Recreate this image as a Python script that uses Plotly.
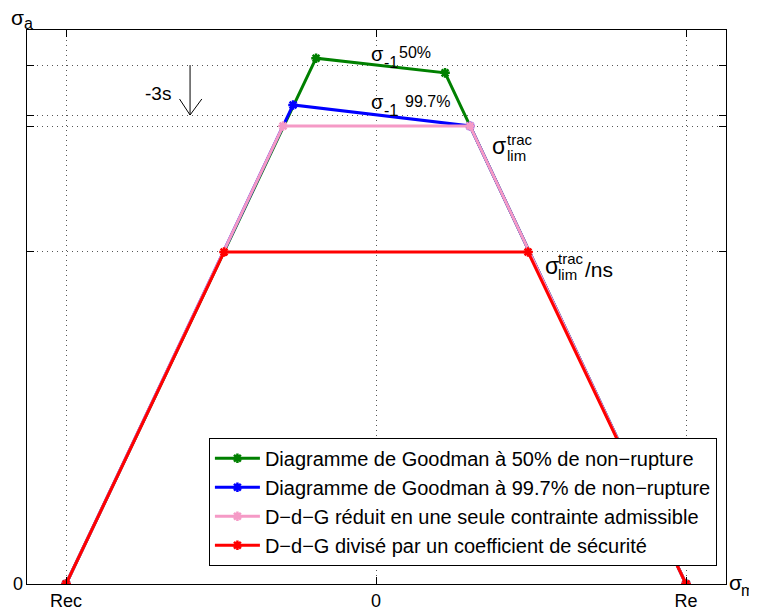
import plotly.graph_objects as go

# ---- data (normalised units: Rec=-1, Re=+1; sigma_lim^trac = 1) ----
x_green = [-1.0, -0.1935, 0.2226, 1.0]
y_green = [0.0, 1.148, 1.116, 0.0]
x_blue = [-1.0, -0.2677, 0.3032, 1.0]
y_blue = [0.0, 1.046, 1.0, 0.0]
x_pink = [-1.0, -0.300, 0.3032, 1.0]
y_pink = [0.0, 1.0, 1.0, 0.0]
x_red = [-1.0, -0.4903, 0.4903, 1.0]
y_red = [0.0, 0.7249, 0.7249, 0.0]

names = [
    "Diagramme de Goodman à 50% de non−rupture",
    "Diagramme de Goodman à 99.7% de non−rupture",
    "D−d−G réduit en une seule contrainte admissible",
    "D−d−G divisé par un coefficient de sécurité",
]
colors = ["#008000", "#0000FF", "#F59AC6", "#FF0000"]

x_tickvals = [-1.0, 0.0, 1.0]
x_ticktext = ["Rec", "0", "Re"]
y_gridvals = [0.0, 0.7249, 1.0, 1.024, 1.133]
y_labelvals = [0.0]
y_labeltext = ["0"]

sigma50 = 1.133
sigma997 = 1.024

FONT = "Liberation Sans, Arial, Helvetica, sans-serif"
YR = [0, 1.2096]

fig = go.Figure()
for xs, ys, nm, c in zip([x_green, x_blue, x_pink, x_red],
                         [y_green, y_blue, y_pink, y_red], names, colors):
    fig.add_trace(go.Scatter(
        x=xs, y=ys, name=nm, mode="lines+markers",
        line=dict(color=c, width=3),
        marker=dict(symbol="asterisk-open", size=8, color=c,
                    line=dict(color=c, width=2.5)),
    ))

def px2x(px):
    return (px - 376) / 310.0

def py2y(py):
    return (584 - py) / 458.0

ann = []
def txt(t, px, py, size, xanchor="left", yanchor="middle"):
    ann.append(dict(text=t, x=px2x(px), y=py2y(py), xref="x", yref="y",
                    showarrow=False, xanchor=xanchor, yanchor=yanchor,
                    borderpad=0,
                    font=dict(size=size, color="black", family=FONT)))

# sigma_-1 50%
txt("σ", 370, 54, 20)
txt("-1", 383, 62, 16)
txt("50%", 398, 52, 16)
# sigma_-1 99.7%
txt("σ", 370, 102, 20)
txt("-1", 383, 110, 16)
txt("99.7%", 404, 101, 16)
# sigma_lim^trac
txt("σ", 491, 146, 23)
txt("trac", 506, 139, 15)
txt("lim", 506, 155, 15)
# sigma_lim^trac / ns
txt("σ", 544, 266, 23)
txt("trac", 557, 258, 15)
txt("lim", 557, 274, 15)
txt("/ns", 584, 269, 21)
txt("-3s", 158, 93, 19, xanchor="center")

# axis name labels (paper coords)
def ptxt(t, px, py, size):
    ann.append(dict(text=t, x=(px - 27) / 699, y=(584 - py) / 554,
                    xref="paper", yref="paper", showarrow=False,
                    xanchor="left", yanchor="middle", borderpad=0,
                    font=dict(size=size, color="black", family=FONT)))

ptxt("σ", 10, 17, 21)
ptxt("a", 23, 23, 16)
ptxt("σ", 728, 582, 21)
ptxt("m", 740, 590, 16)

# -3s arrow
shapes = [
    dict(type="line", xref="x", yref="y", x0=-0.6, x1=-0.6,
         y0=sigma50, y1=sigma997, line=dict(color="black", width=1)),
    dict(type="path", xref="x", yref="y",
         path=f"M {-0.6-0.034},{sigma997+0.035} L -0.6,{sigma997} L {-0.6+0.038},{sigma997+0.035}",
         line=dict(color="black", width=1)),
]

axis_common = dict(showgrid=True, gridcolor="#555555", griddash="1px,4px",
                   gridwidth=1, zeroline=False, showline=True,
                   linecolor="black", linewidth=1, mirror="ticks",
                   ticks="inside", ticklen=7, tickcolor="black",
                   automargin=False,
                   tickfont=dict(size=18, family=FONT, color="black"))

# page body has an 8px margin: figure is 749x606, plot area 27..726 x 30..584
fig.update_layout(
    width=749, height=606,
    margin=dict(l=19, r=31, t=22, b=30),
    paper_bgcolor="white", plot_bgcolor="white",
    font=dict(family=FONT, size=18, color="black"),
    showlegend=True,
    legend=dict(x=0.987, y=0.033, xanchor="right", yanchor="bottom",
                bgcolor="white", bordercolor="black", borderwidth=1,
                font=dict(size=20, family=FONT, color="black"),
                itemwidth=45, tracegroupgap=0),
    annotations=ann,
    shapes=shapes,
    xaxis=dict(range=[-1.126, 1.129], tickvals=x_tickvals, ticktext=x_ticktext,
               **axis_common),
    yaxis=dict(range=YR, tickvals=y_gridvals, showticklabels=False,
               **axis_common),
    yaxis2=dict(range=YR, overlaying="y", side="left", tickvals=y_labelvals,
                ticktext=y_labeltext, showgrid=False, showline=False,
                zeroline=False, ticks="", automargin=False,
                ticklabelstandoff=3,
                tickfont=dict(size=18, family=FONT, color="black")),
)
# invisible trace to anchor the label axis
fig.add_trace(go.Scatter(x=[None], y=[None], yaxis="y2", showlegend=False,
                         hoverinfo="skip"))

fig.write_html("out.html")
